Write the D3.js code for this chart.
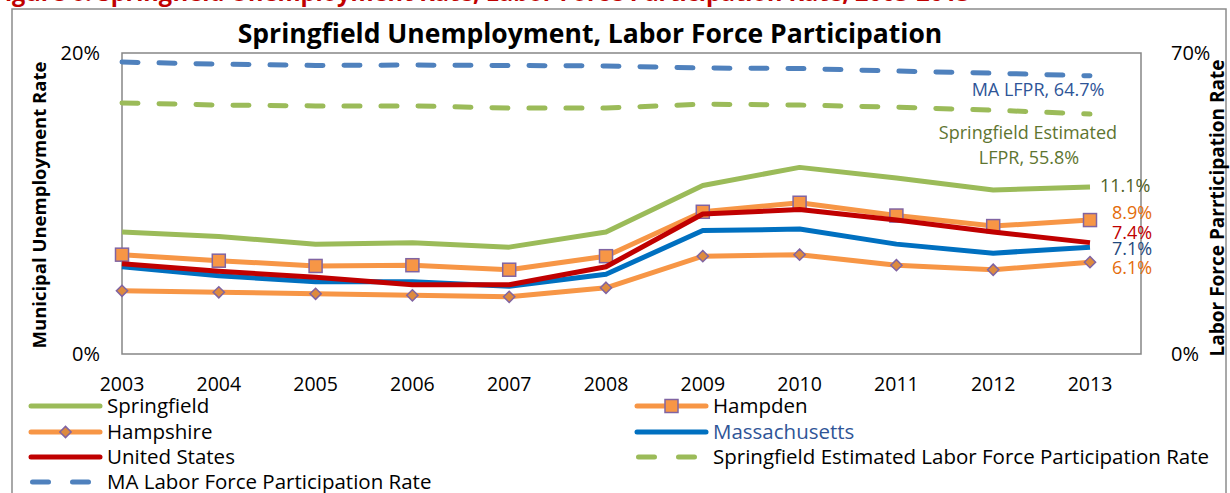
<!doctype html>
<html lang="en">
<head>
<meta charset="utf-8">
<title>Springfield Unemployment, Labor Force Participation</title>
<script src="https://cdn.jsdelivr.net/npm/d3@7"></script>
<style>
  body { margin: 0; background: #fff; }
  svg { font-family: "Open Sans", Lato, sans-serif; }
</style>
</head>
<body>
<svg id="chart" width="1230" height="493"></svg>
<script>
  //
  // Data
  //
  var years = [2003, 2004, 2005, 2006, 2007, 2008, 2009, 2010, 2011, 2012, 2013]
  var springfield = [8.1, 7.8, 7.3, 7.4, 7.1, 8.1, 11.2, 12.4, 11.7, 10.9, 11.1]
  var hampden = [6.6, 6.2, 5.85, 5.9, 5.6, 6.5, 9.45, 10.05, 9.2, 8.5, 8.9]
  var hampshire = [4.2, 4.1, 4.0, 3.9, 3.8, 4.4, 6.5, 6.6, 5.9, 5.6, 6.1]
  var massachusetts = [5.8, 5.2, 4.8, 4.8, 4.5, 5.3, 8.2, 8.3, 7.3, 6.7, 7.1]
  var unitedStates = [6.0, 5.5, 5.1, 4.6, 4.6, 5.8, 9.3, 9.6, 8.9, 8.1, 7.4]
  var springfieldLfpr = [58.4, 57.9, 57.7, 57.7, 57.2, 57.2, 58.1, 57.9, 57.4, 56.7, 55.8]
  var maLfpr = [67.9, 67.4, 67.1, 67.2, 67.1, 67.0, 66.5, 66.4, 65.8, 65.3, 64.7]
  var leftTicks = [0, 20]
  var rightTicks = [0, 70]

  // colors
  var green = '#9BBB59'
  var orange = '#F79646'
  var red = '#C00000'
  var blue = '#0070C0'
  var dashBlue = '#4F81BD'
  var purple = '#8064A2'
  var diamondFill = '#DD8A3E'

  var svg = d3.select('#chart')
  var plot = { left: 122, right: 1141, top: 53, bottom: 354 }

  var x = d3.scaleLinear().domain([2003, 2013]).range([122, 1090])
  var yL = d3.scaleLinear().domain([0, 20]).range([plot.bottom, plot.top])
  var yR = d3.scaleLinear().domain([0, 70]).range([plot.bottom, plot.top])

  // outer frame + clipped caption above it
  svg.append('text').attr('x', -8).attr('y', 1)
    .attr('font-size', 23.5).attr('font-weight', 'bold').attr('fill', '#C00000')
    .text('Figure 6: Springfield Unemployment Rate, Labor Force Participation Rate, 2003-2013')
  svg.append('rect').attr('x', 12).attr('y', 9).attr('width', 1214).attr('height', 500)
    .attr('fill', 'none').attr('stroke', '#8c8c8c').attr('stroke-width', 1.5)

  svg.append('text').attr('x', 590).attr('y', 43).attr('text-anchor', 'middle')
    .attr('font-size', 26.5).attr('font-weight', 'bold')
    .text('Springfield Unemployment, Labor Force Participation')

  // plot border
  svg.append('rect').attr('x', plot.left).attr('y', plot.top)
    .attr('width', plot.right - plot.left).attr('height', plot.bottom - plot.top)
    .attr('fill', 'none').attr('stroke', '#868686').attr('stroke-width', 1.5)

  // axes
  svg.selectAll('.lt').data(leftTicks).enter().append('text')
    .attr('x', 100).attr('y', function (d) { return yL(d) + 7 })
    .attr('text-anchor', 'end').attr('font-size', 20).text(function (d) { return d + '%' })
  svg.selectAll('.rt').data(rightTicks).enter().append('text')
    .attr('x', 1171).attr('y', function (d) { return yR(d) + 7 })
    .attr('font-size', 20).text(function (d) { return d + '%' })
  svg.selectAll('.xt').data(years).enter().append('text')
    .attr('x', function (d) { return x(d) }).attr('y', 391)
    .attr('text-anchor', 'middle').attr('font-size', 19.5).text(function (d) { return d })

  svg.append('text').attr('transform', 'translate(46,205) rotate(-90)')
    .attr('text-anchor', 'middle').attr('font-size', 18.5).attr('font-weight', 'bold')
    .text('Municipal Unemployment Rate')
  svg.append('text').attr('transform', 'translate(1224,208) rotate(-90)')
    .attr('text-anchor', 'middle').attr('font-size', 19).attr('font-weight', 'bold')
    .text('Labor Force Parrticipation Rate')

  function drawLine(values, scale, color, width, dash) {
    var line = d3.line().x(function (d, i) { return x(years[i]) }).y(function (d) { return scale(d) })
    var p = svg.append('path').datum(values).attr('d', line)
      .attr('fill', 'none').attr('stroke', color).attr('stroke-width', width)
      .attr('stroke-linejoin', 'round')
    if (dash) p.attr('stroke-dasharray', '16,21').attr('stroke-linecap', 'round')
    return p
  }

  function squares(values) {
    svg.selectAll(null).data(values).enter().append('rect')
      .attr('x', function (d, i) { return x(years[i]) - 6.5 })
      .attr('y', function (d) { return yL(d) - 6.5 })
      .attr('width', 13).attr('height', 13)
      .attr('fill', orange).attr('stroke', purple).attr('stroke-width', 1.5)
  }

  var diamond = d3.symbol().type(d3.symbolDiamond2).size(80)

  function diamonds(values) {
    svg.selectAll(null).data(values).enter().append('path')
      .attr('d', diamond)
      .attr('transform', function (d, i) { return 'translate(' + x(years[i]) + ',' + yL(d) + ')' })
      .attr('fill', diamondFill).attr('stroke', purple).attr('stroke-width', 1.5)
  }

  drawLine(maLfpr, yR, dashBlue, 5, true)
  drawLine(springfieldLfpr, yR, green, 5, true)
  drawLine(hampshire, yL, orange, 5)
  diamonds(hampshire)
  drawLine(hampden, yL, orange, 5)
  squares(hampden)
  drawLine(massachusetts, yL, blue, 5)
  drawLine(unitedStates, yL, red, 5)
  drawLine(springfield, yL, green, 5)

  // end labels
  var last = years.length - 1
  var endLabels = [
    { v: springfield[last], y: yL(springfield[last]) - 1, dx: 1100, c: '#4F6228' },
    { v: hampden[last], y: yL(hampden[last]) - 7, dx: 1112, c: '#E46C0A' },
    { v: unitedStates[last], y: yL(unitedStates[last]) - 10, dx: 1112, c: red },
    { v: massachusetts[last], y: yL(massachusetts[last]) + 2, dx: 1112, c: '#1F497D' },
    { v: hampshire[last], y: yL(hampshire[last]) + 6, dx: 1112, c: '#E46C0A' }
  ]
  svg.selectAll(null).data(endLabels).enter().append('text')
    .attr('x', function (d) { return d.dx }).attr('y', function (d) { return d.y + 6 })
    .attr('font-size', 18).attr('fill', function (d) { return d.c })
    .text(function (d) { return d3.format('.1f')(d.v) + '%' })

  svg.append('text').attr('x', 1038).attr('y', 96).attr('text-anchor', 'middle')
    .attr('font-size', 18).attr('fill', '#2F5597').text('MA LFPR, ' + maLfpr[last] + '%')
  svg.append('text').attr('x', 1028).attr('y', 139).attr('text-anchor', 'middle')
    .attr('font-size', 18).attr('fill', '#5E7530').text('Springfield Estimated')
  svg.append('text').attr('x', 1029).attr('y', 164).attr('text-anchor', 'middle')
    .attr('font-size', 18).attr('fill', '#5E7530').text('LFPR, ' + springfieldLfpr[last] + '%')

  // legend
  var legend = [
    { name: 'Springfield', col: 0, row: 0, color: green },
    { name: 'Hampden', col: 1, row: 0, color: orange, marker: 'square' },
    { name: 'Hampshire', col: 0, row: 1, color: orange, marker: 'diamond' },
    { name: 'Massachusetts', col: 1, row: 1, color: blue, text: '#2F5597' },
    { name: 'United States', col: 0, row: 2, color: red },
    { name: 'Springfield Estimated Labor Force Participation Rate', col: 1, row: 2, color: green, dash: true },
    { name: 'MA Labor Force Participation Rate', col: 0, row: 3, color: dashBlue, dash: true }
  ]
  var colX = [30, 636]
  var rowY = [406, 432, 457, 482]
  legend.forEach(function (d) {
    var x0 = colX[d.col], y0 = rowY[d.row]
    var l = svg.append('line').attr('y1', y0).attr('y2', y0)
      .attr('stroke', d.color).attr('stroke-width', 5).attr('stroke-linecap', 'round')
    if (d.dash) {
      l.attr('x1', x0 + 2.5).attr('x2', x0 + 60).attr('stroke-dasharray', '16,24')
    } else {
      l.attr('x1', x0 + 1).attr('x2', x0 + 70)
    }
    if (d.marker === 'square') {
      svg.append('rect').attr('x', x0 + 29).attr('y', y0 - 6.5).attr('width', 13).attr('height', 13)
        .attr('fill', orange).attr('stroke', purple).attr('stroke-width', 1.5)
    }
    if (d.marker === 'diamond') {
      svg.append('path').attr('d', diamond)
        .attr('transform', 'translate(' + (x0 + 35.5) + ',' + y0 + ')')
        .attr('fill', diamondFill).attr('stroke', purple).attr('stroke-width', 1.5)
    }
    svg.append('text').attr('x', x0 + 77).attr('y', y0 + 7).attr('font-size', 20.5)
      .attr('fill', d.text || '#000').text(d.name)
  })
</script>
</body>
</html>
